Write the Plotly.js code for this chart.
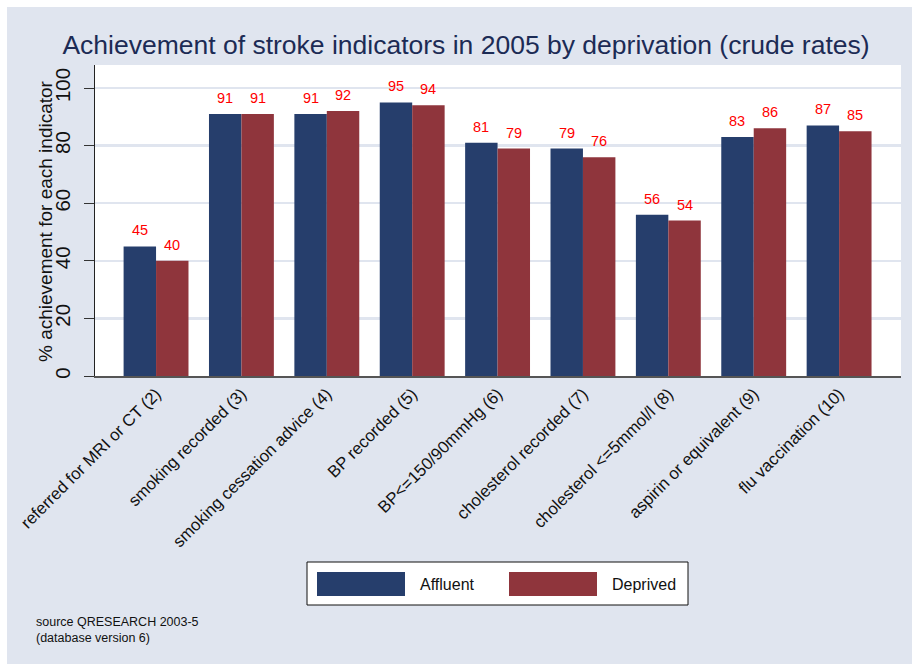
<!DOCTYPE html>
<html>
<head>
<meta charset="utf-8">
<script src="https://cdn.plot.ly/plotly-3.0.1.min.js"></script>
<style>
  html, body { margin: 0; padding: 0; background: #ffffff; overflow: hidden; }
  #chart { position: absolute; left: 7px; top: 7px; width: 905px; height: 657px; }
</style>
</head>
<body>
<div id="chart"></div>
<script>
// ---- data ----
const categories = [
  "referred for MRI or CT (2)",
  "smoking recorded (3)",
  "smoking cessation advice (4)",
  "BP recorded (5)",
  "BP<=150/90mmHg (6)",
  "cholesterol recorded (7)",
  "cholesterol <=5mmol/l (8)",
  "aspirin or equivalent (9)",
  "flu vaccination (10)"
];
const seriesNames = ["Affluent", "Deprived"];
const affluent = [45, 91, 91, 95, 81, 79, 56, 83, 87];
const deprived = [40, 91, 92, 94, 79, 76, 54, 86, 85];
const yTicks = [0, 20, 40, 60, 80, 100];
const titleText = "Achievement of stroke indicators in 2005 by deprivation (crude rates)";
const yTitleText = "% achievement for each indicator";
const noteLines = ["source QRESEARCH 2003-5", "(database version 6)"];

// ---- styling ----
const NAVY = "#263e6c";
const MAROON = "#8f353c";
const BG = "#e0e5ef";
const FONT = "Liberation Sans, Arial, sans-serif";

// page pixel -> paper coords (plot area: x 95..901, y 65..376)
const PX0 = 95, PW = 806, PY0 = 376, PH = 311;
const px = x => (x - PX0) / PW;
const py = y => (PY0 - y) / PH;

const BARHALF = 0.19;
const traces = [
  { type: "bar", name: seriesNames[0], x: categories, y: affluent,
    marker: { color: NAVY, line: { width: 0 } }, hoverinfo: "x+y+name" },
  { type: "bar", name: seriesNames[1], x: categories, y: deprived,
    marker: { color: MAROON, line: { width: 0 } }, hoverinfo: "x+y+name" }
];

const annotations = [];
[affluent, deprived].forEach((vals, s) => {
  vals.forEach((v, i) => {
    annotations.push({
      x: i + (s === 0 ? -BARHALF : BARHALF), y: v, xref: "x", yref: "y",
      text: String(v), showarrow: false, yanchor: "middle", yshift: 16,
      font: { family: FONT, size: 14.5, color: "#ff0000" }
    });
  });
});

// y-axis title
annotations.push({ xref: "paper", yref: "paper", x: px(45), y: py(221), xanchor: "center", yanchor: "middle",
  textangle: -90, text: yTitleText, showarrow: false,
  font: { family: FONT, size: 19, color: "#111111" } });

// custom legend (wide swatches like the original)
const shapes = [
  { type: "rect", xref: "paper", yref: "paper", x0: px(307), x1: px(688), y0: py(605), y1: py(562),
    fillcolor: "#ffffff", line: { color: "#111111", width: 1 } },
  { type: "rect", xref: "paper", yref: "paper", x0: px(317), x1: px(405), y0: py(596), y1: py(572),
    fillcolor: NAVY, line: { width: 0 } },
  { type: "rect", xref: "paper", yref: "paper", x0: px(509), x1: px(597), y0: py(596), y1: py(572),
    fillcolor: MAROON, line: { width: 0 } }
];
annotations.push({ xref: "paper", yref: "paper", x: px(418), y: py(584), xanchor: "left", yanchor: "middle",
  text: seriesNames[0], showarrow: false, font: { family: FONT, size: 16, color: "#111111" } });
annotations.push({ xref: "paper", yref: "paper", x: px(610), y: py(584), xanchor: "left", yanchor: "middle",
  text: seriesNames[1], showarrow: false, font: { family: FONT, size: 16, color: "#111111" } });

// source note
annotations.push({ xref: "paper", yref: "paper", x: px(34), y: py(630), xanchor: "left", yanchor: "middle",
  align: "left", text: noteLines.join("<br>"), showarrow: false,
  font: { family: FONT, size: 12.5, color: "#111111" } });

const layout = {
  width: 905, height: 657,
  paper_bgcolor: BG, plot_bgcolor: "#ffffff",
  margin: { l: 88, r: 11, t: 58, b: 288, pad: 0 },
  showlegend: false,
  barmode: "group", bargap: 0.24, bargroupgap: 0,
  font: { family: FONT, color: "#111111" },
  title: {
    text: titleText, xref: "paper", x: px(466), xanchor: "center",
    yref: "container", y: 1 - (45 - 7) / 657, yanchor: "middle",
    font: { family: FONT, size: 26.5, color: "#1c2b55" }
  },
  xaxis: {
    type: "category", range: [-0.715, 8.725], fixedrange: true,
    showgrid: false, zeroline: false,
    showline: true, linecolor: "#555555", linewidth: 1.5,
    ticks: "", tickangle: -45,
    tickfont: { family: FONT, size: 16.8, color: "#111111" },
    automargin: false
  },
  yaxis: {
    range: [0, 108], tickvals: yTicks, ticktext: yTicks.map(String), fixedrange: true,
    showgrid: true, gridcolor: BG, gridwidth: 2.5, zeroline: false,
    showline: true, linecolor: "#222222", linewidth: 1,
    ticks: "outside", ticklen: 10, tickwidth: 1, tickcolor: "#333333",
    tickangle: -90, ticklabelstandoff: 6,
    tickfont: { family: FONT, size: 20.5, color: "#111111" },
    automargin: false
  },
  shapes: shapes,
  annotations: annotations
};

Plotly.newPlot("chart", traces, layout, { displayModeBar: false, staticPlot: true });
</script>
</body>
</html>
